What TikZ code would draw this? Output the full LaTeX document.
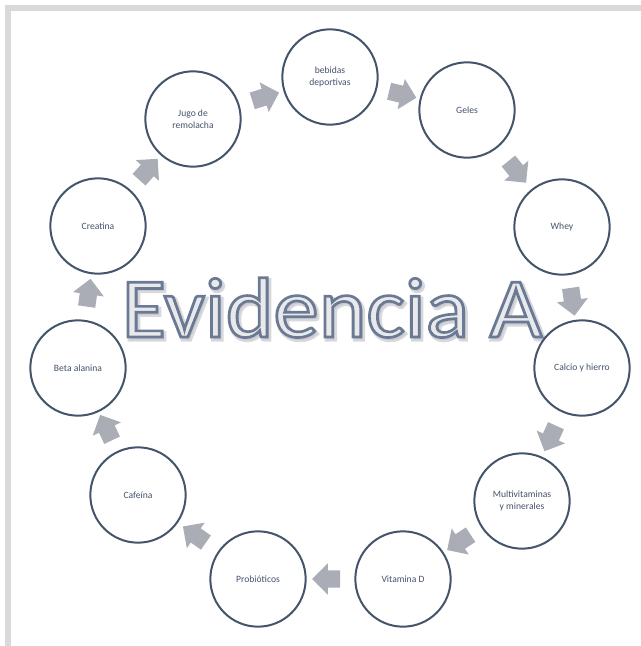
\documentclass[tikz,border=0pt]{standalone}
\usepackage{fontspec}
\setmainfont{Carlito}
\usetikzlibrary{shapes.arrows}
\definecolor{framegray}{RGB}{217,217,217}
\definecolor{ringc}{RGB}{68,84,106}
\definecolor{arrowc}{RGB}{170,173,181}
\definecolor{titlefill}{RGB}{233,233,235}
\definecolor{shadowc}{RGB}{190,192,198}
\newcommand{\outlinedtext}[1]{\special{pdf:literal 2 Tr 2.0 w 0.42 0.48 0.58 RG}#1\special{pdf:literal 0 Tr}}
\newcommand{\shadowtext}[1]{\special{pdf:literal 2 Tr 3.2 w 0.75 0.75 0.78 RG}#1\special{pdf:literal 0 Tr}}
\begin{document}
\begin{tikzpicture}[x=0.75pt,y=-0.75pt,
  stage/.style={circle, draw=ringc, line width=1.5pt, minimum size=71.5pt,
    inner sep=0pt, align=center, text=ringc, fill=white,
    font=\fontsize{7.2}{8.8}\selectfont},
  flow/.style={single arrow, fill=arrowc, draw=none, minimum height=21pt,
    minimum width=23pt, single arrow head extend=5.2pt, inner xsep=0pt,
    inner ysep=6.3pt, sloped, allow upside down},
  titletext/.style={anchor=base, font=\fontsize{64}{64}\selectfont}]
\useasboundingbox (0,0) rectangle (641,646);
\fill[framegray] (5,5) rectangle (641,11);
\fill[framegray] (5,5) rectangle (11,646);

% title
\node (shadow) [titletext, text=shadowc, opacity=0.6] at (334,339.5)
  {\scalebox{1.065}[1]{\shadowtext{Evidencia A}}};
\node (title) [titletext, text=titlefill] at (332,337)
  {\scalebox{1.065}[1]{\outlinedtext{Evidencia A}}};

% stages
\node (jugo)  [stage] at (193,119) {Jugo de\\remolacha};
\node (bebid) [stage] at (330,77)  {bebidas\\deportivas};
\node (geles) [stage] at (467,110) {Geles};
\node (whey)  [stage] at (562,227) {Whey};
\node (calc)  [stage] at (582,368) {Calcio y hierro};
\node (multi) [stage] at (522,501) {Multivitaminas\\y minerales};
\node (vitd)  [stage] at (403,579) {Vitamina D};
\node (prob)  [stage] at (258,579) {Probióticos};
\node (caf)   [stage] at (138,495) {Cafeína};
\node (beta)  [stage] at (78,368)  {Beta alanina};
\node (crea)  [stage] at (98,226)  {Creatina};

% arrows
\path (jugo.center)  -- node[flow] (a1) {} (bebid.center);
\path (bebid.center) -- node[flow] (a2) {} (geles.center);
\path (geles.center) -- node[flow] (a3) {} (whey.center);
\path (whey.center)  -- node[flow] (a4) {} (calc.center);
\path (calc.center)  -- node[flow] (a5) {} (multi.center);
\path (multi.center) -- node[flow] (a6) {} (vitd.center);
\path (vitd.center)  -- node[flow] (a7) {} (prob.center);
\path (prob.center)  -- node[flow] (a8) {} (caf.center);
\path (caf.center)   -- node[flow] (a9) {} (beta.center);
\path (beta.center)  -- node[flow] (a10) {} (crea.center);
\path (crea.center)  -- node[flow] (a11) {} (jugo.center);
\end{tikzpicture}
\end{document}
